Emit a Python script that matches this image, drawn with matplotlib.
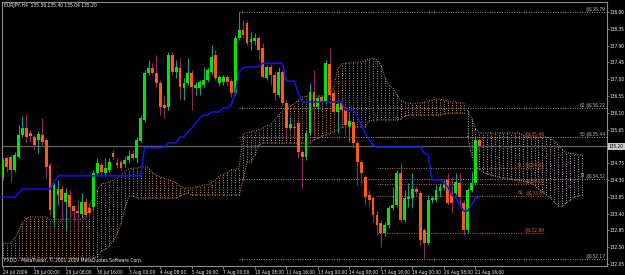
import matplotlib
matplotlib.use('Agg')
import matplotlib.pyplot as plt
from matplotlib import font_manager
from matplotlib.transforms import blended_transform_factory

# EURJPY H4 candles, bar 0 = 24 Jul 2009 16:00
opens = [134.38, 134.89, 134.92, 134.57, 134.92, 135.50, 135.69, 135.56, 135.45, 135.37,
         135.50, 135.37, 134.70, 133.28, 133.90, 134.06, 133.71, 133.90, 133.60, 133.47,
         133.39, 133.71, 133.55, 133.58, 134.49, 134.70, 134.49, 134.57, 135.02, 134.75,
         134.78, 134.73, 134.84, 135.00, 134.89, 135.34, 135.91, 137.17, 137.30, 137.17,
         136.90, 136.31, 136.26, 137.65, 137.19, 137.30, 136.76, 136.90, 137.17, 136.76,
         136.76, 136.84, 136.98, 137.19, 137.65, 136.90, 136.92, 137.06, 136.95, 136.63,
         138.10, 138.32, 138.51, 138.00, 138.02, 138.10, 137.84, 137.03, 137.33, 137.11,
         136.58, 137.19, 136.36, 135.69, 135.72, 135.83, 135.05, 134.92, 135.56, 136.66,
         136.26, 136.52, 136.39, 137.41, 136.63, 136.12, 136.36, 136.17, 135.75, 135.85,
         135.29, 134.78, 134.38, 133.90, 133.82, 133.36, 133.15, 132.88, 133.09, 133.55,
         133.63, 134.49, 133.23, 133.79, 133.82, 134.06, 133.95, 132.96, 132.61, 133.76,
         133.76, 134.00, 134.08, 134.30, 133.95, 133.95, 134.22, 133.68, 132.96, 134.03,
         134.22, 135.36]
highs = [134.89, 134.94, 134.97, 135.05, 135.77, 136.01, 136.07, 135.64, 135.50, 135.61,
         135.96, 135.42, 134.75, 134.22, 134.30, 134.17, 134.08, 134.03, 133.63, 133.76,
         133.95, 133.82, 133.68, 134.57, 134.89, 134.78, 134.89, 134.89, 135.10, 134.89,
         134.84, 134.94, 135.10, 135.10, 135.45, 136.04, 137.25, 137.51, 137.43, 137.65,
         136.98, 136.58, 137.73, 137.73, 137.51, 137.57, 137.03, 137.57, 137.25, 136.92,
         136.98, 137.33, 137.33, 137.92, 137.78, 137.11, 137.11, 137.11, 137.03, 138.18,
         138.79, 138.59, 138.59, 138.26, 138.24, 138.16, 137.97, 137.38, 137.41, 137.19,
         137.33, 137.25, 136.44, 135.99, 135.91, 135.91, 135.10, 135.64, 136.90, 137.25,
         136.58, 136.58, 137.51, 137.84, 136.71, 136.44, 136.44, 136.23, 136.09, 135.91,
         135.34, 134.84, 134.43, 134.03, 133.87, 133.50, 133.23, 133.17, 133.63, 134.11,
         134.57, 134.75, 134.03, 134.22, 134.49, 134.14, 134.03, 133.01, 133.90, 133.87,
         134.17, 134.22, 134.30, 134.49, 134.38, 134.49, 134.49, 133.76, 134.08, 134.51,
         135.46, 135.40]
lows = [134.30, 134.51, 134.25, 134.51, 134.89, 135.45, 135.32, 135.32, 135.10, 135.02,
        135.24, 134.35, 133.36, 133.04, 133.63, 133.23, 132.96, 133.23, 133.23, 132.96,
        133.28, 133.28, 133.31, 133.50, 134.43, 134.43, 134.41, 134.51, 134.84, 134.62,
        134.57, 134.65, 134.75, 134.84, 134.75, 135.32, 135.85, 137.11, 137.11, 136.79,
        136.04, 135.96, 136.17, 137.11, 137.03, 136.44, 136.44, 136.84, 136.17, 136.58,
        136.58, 136.79, 136.92, 137.11, 136.98, 136.82, 136.84, 136.84, 136.52, 136.58,
        138.05, 138.10, 137.92, 137.78, 137.92, 137.51, 137.03, 136.98, 136.84, 136.44,
        136.52, 136.31, 135.45, 135.64, 135.50, 134.89, 134.08, 134.84, 135.50, 135.50,
        136.17, 136.31, 136.34, 136.52, 136.04, 135.56, 135.85, 135.50, 135.32, 135.16,
        134.17, 134.17, 133.63, 133.58, 133.17, 132.83, 132.50, 132.80, 133.01, 133.50,
        133.58, 133.17, 133.17, 133.58, 133.55, 133.90, 132.56, 132.17, 132.56, 133.68,
        133.71, 133.84, 134.03, 133.63, 133.42, 133.90, 133.63, 132.83, 132.89, 133.98,
        134.17, 135.04]
closes = [134.84, 134.65, 134.57, 134.97, 135.50, 135.69, 135.45, 135.48, 135.24, 135.53,
          135.32, 134.65, 133.50, 134.17, 134.06, 133.76, 133.95, 133.58, 133.47, 133.42,
          133.71, 133.36, 133.42, 134.49, 134.75, 134.51, 134.62, 134.78, 134.92, 134.70,
          134.62, 134.84, 134.94, 134.89, 135.37, 135.96, 137.17, 137.30, 137.17, 136.90,
          136.26, 136.23, 137.65, 137.19, 137.33, 136.79, 136.90, 137.17, 136.79, 136.84,
          136.92, 136.98, 137.25, 137.59, 137.03, 137.06, 137.06, 136.92, 136.63, 138.10,
          138.32, 138.18, 137.97, 138.08, 138.10, 137.78, 137.06, 137.33, 137.11, 136.63,
          137.19, 136.36, 135.69, 135.80, 135.69, 135.05, 134.92, 135.56, 136.66, 136.26,
          136.50, 136.39, 137.43, 136.58, 136.12, 136.34, 136.17, 135.77, 135.88, 135.29,
          134.78, 134.49, 133.84, 133.76, 133.36, 133.09, 132.88, 133.09, 133.55, 133.63,
          134.49, 133.23, 133.82, 133.84, 134.06, 133.98, 132.69, 132.61, 133.76, 133.82,
          134.03, 134.11, 134.19, 133.68, 133.68, 134.25, 133.84, 132.96, 134.03, 134.22,
          135.37, 135.20]

# Kijun-sen (blue line)
kijun = [133.84, 133.84, 133.84, 133.84, 133.95, 134.06, 134.06, 134.06, 134.06, 134.06,
         134.06, 134.06, 134.06, 134.25, 134.41, 134.41, 134.41, 134.41, 134.41, 134.41,
         134.41, 134.41, 134.41, 134.41, 134.41, 134.41, 134.41, 134.41, 134.41, 134.41,
         134.41, 134.41, 134.41, 134.41, 134.41, 134.41, 135.16, 135.16, 135.16, 135.16,
         135.16, 135.18, 135.29, 135.29, 135.29, 135.45, 135.45, 135.59, 135.69, 135.83,
         135.96, 136.04, 136.04, 136.12, 136.12, 136.12, 136.23, 136.23, 136.31, 136.63,
         137.19, 137.30, 137.33, 137.33, 137.33, 137.33, 137.43, 137.43, 137.43, 137.43,
         137.43, 137.43, 136.95, 136.95, 136.95, 136.63, 136.39, 136.39, 136.39, 136.39,
         136.39, 136.39, 136.39, 136.39, 136.39, 136.39, 136.39, 136.17, 136.17, 136.17,
         135.99, 135.77, 135.56, 135.37, 135.24, 135.18, 135.18, 135.18, 135.18, 135.18,
         135.18, 135.18, 135.18, 135.18, 135.18, 135.18, 135.18, 135.02, 134.97, 134.30,
         134.30, 134.30, 134.22, 134.11, 133.90, 133.82, 133.63, 133.47, 133.47, 133.63,
         133.82, 133.82]

# Ichimoku cloud edges (extends 26 bars past the last candle)
cloud_top = [132.61, 132.61, 132.61, 132.75, 132.93, 133.15, 133.28, 133.31, 133.31, 133.31,
             133.31, 133.31, 133.23, 133.25, 133.25, 133.25, 133.25, 133.25, 133.25, 133.25,
             133.25, 133.25, 133.60, 133.84, 134.03, 134.19, 134.22, 134.25, 134.30, 134.35,
             134.43, 134.51, 134.59, 134.62, 134.62, 134.65, 134.65, 134.62, 134.51, 134.43,
             134.38, 134.35, 134.30, 134.27, 134.22, 134.14, 134.08, 134.08, 134.08, 134.11,
             134.14, 134.17, 134.17, 134.22, 134.30, 134.41, 134.46, 134.51, 134.57, 134.59,
             134.62, 135.53, 135.56, 135.59, 135.61, 135.64, 135.69, 135.75, 135.77, 135.91,
             136.04, 136.15, 136.23, 136.28, 136.34, 136.44, 136.52, 136.55, 136.55, 136.55,
             136.55, 136.55, 136.55, 136.60, 136.76, 137.25, 137.41, 137.43, 137.43, 137.46,
             137.46, 137.46, 137.51, 137.54, 137.57, 137.51, 137.38, 137.06, 136.84, 136.76,
             136.60, 136.44, 136.39, 136.36, 136.34, 136.36, 136.36, 136.39, 136.42, 136.44,
             136.47, 136.47, 136.44, 136.42, 136.39, 136.39, 136.36, 136.36, 136.17, 135.96,
             135.69, 135.56, 135.56, 135.56, 135.56, 135.56, 135.56, 135.56, 135.56, 135.56,
             135.56, 135.56, 135.50, 135.45, 135.45, 135.45, 135.45, 135.45, 135.45, 135.42,
             135.34, 135.24, 135.13, 135.02, 135.02, 135.00, 134.97, 134.97]
cloud_bot = [132.21, 132.21, 132.21, 132.21, 132.21, 132.21, 132.21, 132.21, 132.21, 132.21,
             132.21, 132.21, 132.21, 132.21, 132.21, 132.21, 132.21, 132.21, 132.21, 132.21,
             132.21, 132.21, 132.21, 132.21, 132.24, 132.40, 132.45, 132.53, 132.66, 132.85,
             133.12, 133.55, 133.87, 133.87, 133.82, 133.82, 133.82, 133.82, 133.82, 133.82,
             133.82, 133.82, 133.82, 133.82, 133.82, 133.87, 133.92, 133.95, 133.90, 133.90,
             133.90, 133.90, 133.90, 133.90, 133.90, 133.90, 133.90, 133.90, 133.90, 133.90,
             133.90, 134.30, 134.78, 134.78, 134.97, 135.24, 135.29, 135.29, 135.29, 135.29,
             135.29, 135.29, 135.29, 135.29, 135.29, 135.29, 135.29, 135.29, 135.29, 135.37,
             135.42, 135.48, 135.50, 135.56, 135.59, 135.64, 135.72, 135.72, 135.72, 135.72,
             135.72, 135.72, 135.72, 135.88, 135.91, 135.91, 135.91, 135.91, 135.91, 135.91,
             135.91, 135.93, 136.01, 136.04, 136.04, 136.04, 136.04, 136.04, 136.04, 136.04,
             136.04, 136.04, 136.07, 136.09, 136.09, 136.09, 136.09, 136.09, 135.48, 134.97,
             134.67, 134.59, 134.51, 134.46, 134.43, 134.41, 134.38, 134.35, 134.35, 134.33,
             134.30, 134.30, 134.27, 134.25, 134.22, 134.17, 134.06, 133.98, 133.90, 133.82,
             133.71, 133.60, 133.60, 133.68, 133.76, 133.84, 133.87, 133.90]

# fibonacci retracements
fib_grey_levels = [138.79, 136.22, 135.44, 134.32, 132.17]
fib_grey_names = ['', '62', '50', '33', '']
fib_orange_levels = [135.46, 134.61, 134.18, 133.87, 132.89]
fib_orange_names = ['', '33', '50', '62', '']

time_labels = ['24 Jul 2009', '28 Jul 00:00', '29 Jul 08:00', '30 Jul 16:00', '3 Aug 00:00',
               '4 Aug 08:00', '5 Aug 16:00', '7 Aug 00:00', '10 Aug 08:00', '11 Aug 16:00',
               '13 Aug 00:00', '14 Aug 08:00', '17 Aug 16:00', '19 Aug 00:00', '20 Aug 08:00',
               '21 Aug 16:00']
time_label_bars = [0, 8, 16, 24, 32, 40, 48, 56, 64, 72, 80, 88, 96, 104, 112, 120]
price_ticks = [138.80, 138.35, 137.90, 137.45, 137.00, 136.55, 136.10, 135.65,
               134.75, 134.30, 133.85, 133.40, 132.95, 132.50, 132.05]
last_price = 135.20

# small narrow text like the terminal's bitmap font
fonts = font_manager.fontManager.ttflist
names = {f.name for f in fonts}
if 'Liberation Sans Narrow' in names:
    plt.rcParams['font.family'] = 'Liberation Sans Narrow'
    FS, FS_AX = 4.3, 4.3
elif any(f.name == 'DejaVu Sans' and f.stretch == 'condensed' for f in fonts):
    plt.rcParams['font.family'] = 'DejaVu Sans'
    plt.rcParams['font.stretch'] = 'condensed'
    FS, FS_AX = 3.6, 3.45
else:
    plt.rcParams['font.family'] = 'DejaVu Sans'
    FS, FS_AX = 3.4, 3.1

BULL = '#00e600'
BEAR = '#ff5a14'
BULL_WICK = '#0f9a8c'
BEAR_WICK = '#8a2a6a'
SANDY = '#d08a55'
THISTLE = '#b8a6b8'
FIB_GREY = '#9a9a9a'
FIB_ORANGE = '#d2691e'
TEXT = '#f0f0f0'
DOT = (0, (1, 1.5))
THISTLE_FROM = 118

fig = plt.figure(figsize=(6.25, 2.75), dpi=100, facecolor='black')
ax = fig.add_axes([2 / 625, 9 / 275, 605 / 625, 264 / 275], facecolor='black')
ax.set_xlim(-0.2, 153.4)
ax.set_ylim(131.995, 139.068)

# cloud
xc = list(range(len(cloud_top)))
for lo, hi, col in [(0, THISTLE_FROM, SANDY), (THISTLE_FROM, len(xc), THISTLE)]:
    ax.vlines(xc[lo:hi], cloud_bot[lo:hi], cloud_top[lo:hi], colors=col,
              linestyles=DOT, lw=0.7, zorder=1)
    ax.plot(xc[lo:hi], cloud_top[lo:hi], color=col, ls=DOT, lw=0.7, zorder=1)
    ax.plot(xc[lo:hi], cloud_bot[lo:hi], color=col, ls=DOT, lw=0.7, zorder=1)

# last price line
ax.axhline(last_price, color='#5c5c5c', lw=1.0, zorder=1.5)

# fibo
grey_start = highs.index(max(highs))
orange_start = lows.index(min(lows[110:]))
orange_end = 137.7
for lvl in fib_grey_levels:
    ax.hlines(lvl, grey_start, 153.4, colors=FIB_GREY, linestyles=DOT, lw=0.7, zorder=2)
for lvl in fib_orange_levels:
    ax.hlines(lvl, orange_start, orange_end, colors=FIB_ORANGE, linestyles=DOT, lw=0.7, zorder=2)

tr = blended_transform_factory(ax.transAxes, ax.transData)
for lvl, name in zip(fib_grey_levels, fib_grey_names):
    ax.text(0.998, lvl + 0.02, f'@{lvl:.2f}', transform=tr, ha='right', va='bottom',
            fontsize=FS, color='#b4b4b4', zorder=6)
    if name:
        ax.text(0.955, lvl + 0.02, name, transform=tr, ha='left', va='bottom',
                fontsize=FS, color='#b4b4b4', zorder=6)
for lvl, name in zip(fib_orange_levels, fib_orange_names):
    ax.text(orange_end, lvl + 0.02, f'@{lvl:.2f}', ha='right', va='bottom',
            fontsize=FS, color=FIB_ORANGE, zorder=6)
    if name:
        ax.text(130.6, lvl + 0.02, name, ha='left', va='bottom',
                fontsize=FS, color=FIB_ORANGE, zorder=6)

# candles
xb = list(range(len(opens)))
up = [c >= o for o, c in zip(opens, closes)]
ax.vlines(xb, lows, highs, colors=[BULL_WICK if u else BEAR_WICK for u in up], lw=0.8, zorder=3)
ax.bar(xb, [max(abs(c - o), 0.02) for o, c in zip(opens, closes)],
       bottom=[min(o, c) for o, c in zip(opens, closes)], width=0.72,
       color=[BULL if u else BEAR for u in up], linewidth=0, zorder=4)

# kijun
ax.plot(xb, kijun, color='#1414e6', lw=1.1, zorder=5)

# axes styling
for s in ax.spines.values():
    s.set_color('#8c8c8c')
    s.set_linewidth(0.8)
ax.yaxis.tick_right()
ax.set_yticks(price_ticks)
ax.set_yticklabels([f'{p:.2f}' for p in price_ticks])
ax.set_xticks(time_label_bars)
ax.set_xticklabels(time_labels, ha='left')
ax.tick_params(axis='y', labelsize=FS_AX, labelcolor=TEXT, color='#8c8c8c', length=1.5, pad=0.6, width=0.6)
ax.tick_params(axis='x', labelsize=FS_AX, labelcolor=TEXT, color='#8c8c8c', length=2, pad=1.0, width=0.6)

ax.text(1.003, last_price, f'{last_price:.2f}', transform=tr, ha='left', va='center',
        fontsize=FS_AX, color='black', clip_on=False,
        bbox=dict(boxstyle='square,pad=0.15', fc='#c8c8c8', ec='none'))

fig.text(4 / 625, 1 - 3 / 275, 'EURJPY,H4  135.36 135.40 135.04 135.20', ha='left', va='top',
         fontsize=FS, color=TEXT)
ax.text(0.003, 0.012, 'FXDD - MetaTrader, \u00a9 2001-2009 MetaQuotes Software Corp.',
        transform=ax.transAxes, ha='left', va='bottom', fontsize=FS, color=TEXT, zorder=6)

fig.savefig('out.png', dpi=100, facecolor='black')
